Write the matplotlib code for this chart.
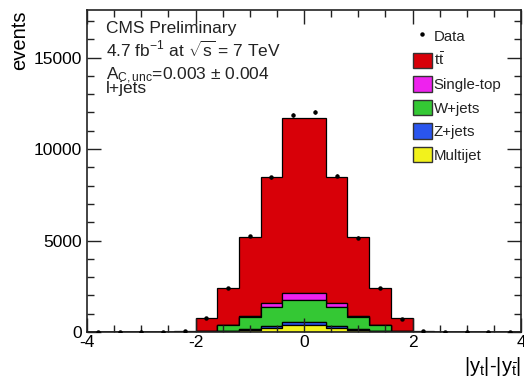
import numpy as np
import matplotlib
matplotlib.use("Agg")
import matplotlib.pyplot as plt
from matplotlib.patches import Patch
from matplotlib.lines import Line2D
from matplotlib.ticker import MultipleLocator

plt.rcParams['font.family'] = ['Liberation Sans', 'DejaVu Sans']
plt.rcParams['mathtext.fontset'] = 'custom'
plt.rcParams['mathtext.rm'] = 'Liberation Sans'
plt.rcParams['mathtext.it'] = 'Liberation Sans:italic'

# bin edges of |y_t|-|y_tbar|, width 0.4 from -4 to 4
edges = np.round(np.arange(-4.0, 4.01, 0.4), 2)
centers = 0.5 * (edges[:-1] + edges[1:])

# stacked components (events per bin)
multijet = [0, 0, 0, 1, 2, 15, 40, 100, 200, 380,
            380, 200, 100, 40, 15, 2, 1, 0, 0, 0]
zjets = [0, 0, 0, 0, 1, 5, 25, 60, 110, 180,
         180, 110, 60, 25, 5, 1, 0, 0, 0, 0]
wjets = [0, 0, 1, 2, 4, 25, 300, 640, 1070, 1190,
         1190, 1070, 640, 300, 25, 4, 2, 1, 0, 0]
singletop = [0, 0, 0, 1, 2, 15, 40, 90, 190, 365,
             365, 190, 90, 40, 15, 2, 1, 0, 0, 0]
ttbar = [1, 3, 6, 15, 45, 710, 1975, 4310, 6900, 9585,
         9585, 6920, 4290, 2025, 690, 45, 15, 6, 3, 1]
data = [1, 3, 8, 18, 50, 780, 2400, 5250, 8450, 11850,
        12000, 8550, 5150, 2420, 720, 52, 17, 7, 2, 1]

labels = ['Multijet', 'Z+jets', 'W+jets', 'Single-top', r'$\mathrm{t\bar{t}}$']
colors = ['#f2f21c', '#2a55ee', '#34c834', '#ee22ee', '#d80008']
series = [multijet, zjets, wjets, singletop, ttbar]

fig = plt.figure(figsize=(5.24, 3.82), dpi=100)
ax = fig.add_axes([87 / 524, 1 - 332 / 382, 434 / 524, 322 / 382])

ax.hist([centers] * len(series), bins=edges, weights=series, stacked=True,
        histtype='stepfilled', color=colors, edgecolor='black', linewidth=0.9)

data = np.array(data, dtype=float)
ax.errorbar(centers, data, yerr=np.sqrt(data), fmt='o', color='black',
            markersize=2.2, elinewidth=0.8, capsize=0, zorder=5)

ax.set_xlim(-4, 4)
ax.set_ylim(0, 17600)
ax.xaxis.set_major_locator(MultipleLocator(2))
ax.xaxis.set_minor_locator(MultipleLocator(0.5))
ax.yaxis.set_major_locator(MultipleLocator(5000))
ax.yaxis.set_minor_locator(MultipleLocator(1000))
ax.tick_params(which='both', direction='in', top=True, right=True,
               labelsize=12.5, width=1.0, color='#222222')
ax.tick_params(which='major', length=10)
ax.tick_params(which='minor', length=5)
ax.tick_params(axis='x', pad=2)
for s in ax.spines.values():
    s.set_linewidth(1.2)
    s.set_color('#222222')

ax.set_xticklabels(['', '-4', '-2', '0', '2', '4'])
ax.set_ylabel('events', loc='top', fontsize=14.5, labelpad=3)
ax.set_xlabel(r'|y$_\mathrm{t}$|-|y$_{\bar{\mathrm{t}}}$|', loc='right',
              fontsize=14.5, labelpad=4)

tx = 0.044
tsize = 12.5
ax.text(tx, 0.929, 'CMS Preliminary', transform=ax.transAxes, fontsize=tsize,
        va='baseline', color='#222222')
ax.text(tx, 0.854, r'4.7 fb$^{-1}$ at $\sqrt{\mathrm{s}}$ = 7 TeV', transform=ax.transAxes,
        fontsize=tsize, va='baseline', color='#222222')
ax.text(tx, 0.783, r'A$_{\mathrm{C,unc}}$=0.003 $\pm$ 0.004', transform=ax.transAxes,
        fontsize=tsize, va='baseline', color='#222222')
ax.text(tx, 0.742, 'l+jets', transform=ax.transAxes, fontsize=tsize,
        va='baseline', color='#222222')

handles = [Line2D([], [], marker='o', color='black', linestyle='none', markersize=2.2)]
for lab, col in zip(labels[::-1], colors[::-1]):
    handles.append(Patch(facecolor=col, edgecolor='#333333', linewidth=1.0, label=lab))
leg = ax.legend(handles, ['Data'] + labels[::-1], loc='upper left',
                bbox_to_anchor=(0.751, 0.944), frameon=False, fontsize=10.8,
                borderpad=0, borderaxespad=0, handlelength=1.27, handleheight=1.2,
                handletextpad=0.12, labelspacing=0.52)
for t in leg.get_texts():
    t.set_color('#222222')

fig.savefig('out.png', dpi=100)
